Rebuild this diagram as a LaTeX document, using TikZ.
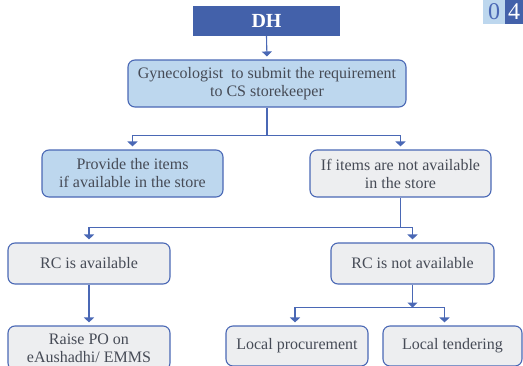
\documentclass[tikz,border=0pt]{standalone}
\usepackage{fontspec}
\setmainfont{Liberation Serif}
\usetikzlibrary{arrows.meta}
\definecolor{dhblue}{HTML}{4361AA}
\definecolor{lblue}{HTML}{BDD7EE}
\definecolor{lgray}{HTML}{EDEEF0}
\definecolor{edge}{HTML}{4A68B5}
\definecolor{txt}{HTML}{464B56}
\tikzset{
  box/.style={draw=edge, line width=1.1pt, rounded corners=7pt, align=center,
    text=txt, font=\fontsize{16}{18}\selectfont, inner sep=0pt},
  bluebox/.style={box, fill=lblue},
  graybox/.style={box, fill=lgray},
  conn/.style={draw=edge, line width=1.1pt},
  arr/.style={conn, -{Triangle[width=10pt,length=5pt]}, shorten >=3pt},
}
\begin{document}
\begin{tikzpicture}[x=1pt,y=-1pt]
\useasboundingbox (0,0) rectangle (523,365);
\clip (0,0) rectangle (523,365);
% page number
\node[fill=lblue, minimum width=22pt, minimum height=24pt, inner sep=0pt, text=edge,
  font=\fontsize{24}{24}\selectfont] (p0) at (494,12) {0};
\node[fill=dhblue, minimum width=18pt, minimum height=24pt, inner sep=0pt, text=white,
  font=\fontsize{24}{24}\selectfont] (p4) at (514,12) {4};
% nodes
\node[fill=dhblue, minimum width=147pt, minimum height=30pt, inner sep=0pt, text=white,
  font=\fontsize{20}{20}\selectfont\bfseries] (dh) at (266.5,21) {DH};
\node[bluebox, minimum width=278pt, minimum height=47pt] (gyn) at (267,83.5)
  {Gynecologist\ \ to submit the requirement\\to CS storekeeper};
\node[bluebox, minimum width=181pt, minimum height=47pt] (prov) at (132.5,173.5)
  {Provide the items\\if available in the store};
\node[graybox, minimum width=181pt, minimum height=47pt] (ifn) at (400.5,173.5)
  {If items are not available\\in the store};
\node[graybox, minimum width=162pt, minimum height=41pt] (rca) at (89,263.5)
  {RC is available};
\node[graybox, minimum width=163pt, minimum height=41pt] (rcn) at (412.5,263.5)
  {RC is not available};
\node[graybox, minimum width=162pt, minimum height=44pt] (po) at (89,348)
  {Raise PO on\\eAushadhi/ EMMS};
\node[graybox, minimum width=142pt, minimum height=40pt] (lp) at (297,346)
  {Local procurement};
\node[graybox, minimum width=139pt, minimum height=40pt] (lt) at (452.5,346)
  {Local tendering};
% connectors
\draw[arr] (dh.south) -- (gyn.north);
\draw[conn] (gyn.south) -- ++(0,28) coordinate (j1);
\draw[arr] (j1) -| (prov.north);
\draw[arr] (j1) -| (ifn.north);
\draw[conn] (ifn.south) -- ++(0,30) coordinate (j2);
\draw[arr] (j2) -| (rca.north);
\draw[arr] (j2) -| (rcn.north);
\draw[arr] (rca.south) -- (po.north);
\coordinate (j3) at ([yshift=-23pt]rcn.south);
\draw[arr, shorten >=0pt] (rcn.south) -- (j3);
\draw[arr] (j3) -| ([xshift=-2pt]lp.north);
\draw[arr] (j3) -| ([xshift=-8pt]lt.north);
\end{tikzpicture}
\end{document}
